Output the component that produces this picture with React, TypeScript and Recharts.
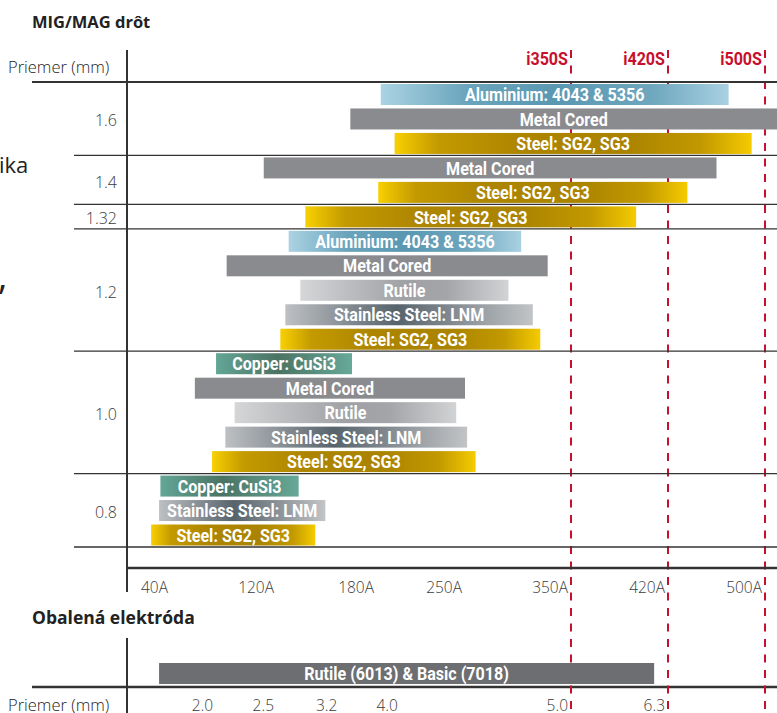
import React from 'react';
import { BarChart, Bar, XAxis, YAxis, ReferenceLine } from 'recharts';

// MIG/MAG wire rows, top to bottom (one bar per row)
const ROW_DIAMETER = [
  '1.6', '1.6', '1.6',
  '1.4', '1.4',
  '1.32',
  '1.2', '1.2', '1.2', '1.2', '1.2',
  '1.0', '1.0', '1.0', '1.0', '1.0',
  '0.8', '0.8', '0.8',
];
const ROW_WIRE = [
  'Aluminium: 4043 & 5356', 'Metal Cored', 'Steel: SG2, SG3',
  'Metal Cored', 'Steel: SG2, SG3',
  'Steel: SG2, SG3',
  'Aluminium: 4043 & 5356', 'Metal Cored', 'Rutile', 'Stainless Steel: LNM', 'Steel: SG2, SG3',
  'Copper: CuSi3', 'Metal Cored', 'Rutile', 'Stainless Steel: LNM', 'Steel: SG2, SG3',
  'Copper: CuSi3', 'Stainless Steel: LNM', 'Steel: SG2, SG3',
];
// current range in amps
const ROW_MIN_A = [183, 164, 194, 110, 181, 137, 127, 82, 134, 125, 122, 74, 58, 88, 81, 71, 32, 31, 25];
const ROW_MAX_A = [470, 510, 489, 460, 436, 397, 303, 328, 291, 314, 321, 165, 250, 243, 252, 260, 133, 149, 143];

const AMP_TICKS = [40, 120, 180, 250, 350, 420, 500];

const MACHINES = ['i350S', 'i420S', 'i500S'];
const MACHINE_MAX_A = [350, 420, 500];

// coated electrode
const ELECTRODE_LABEL = 'Rutile (6013) & Basic (7018)';
const ELECTRODE_RANGE_A = [31, 410];
const ELECTRODE_DIAMETERS = ['2.0', '2.5', '3.2', '4.0', '5.0', '6.3'];
const ELECTRODE_DIAMETER_A = [74, 120, 158, 199, 350, 420];

// layout
const W = 777;
const H = 713;
const PLOT_LEFT = 127;
const PLOT_TOP = 82;
const PLOT_BOTTOM = 568;
const PAD_BOTTOM = 21;
const X_AXIS_H = 32;
const SLOT = (PLOT_BOTTOM - PAD_BOTTOM - PLOT_TOP) / ROW_WIRE.length;
// the amp axis is not linear: where each tick sits inside the 650px plot
const AMP_TICK_X = [44, 150, 250, 338, 444, 541, 638];

const BAR_FONT = 'Roboto, "DejaVu Sans", sans-serif';
const SQUEEZE = 0.87; // condensed look for the bar labels
const TEXT_FONT = '"Open Sans", "Noto Sans", sans-serif';
const RED = '#C8102E';
const DARK = '#333';

const FILLS: Record<string, string> = {
  Aluminium: 'url(#g-alu)',
  Metal: '#8A8B8F',
  Steel: 'url(#g-steel)',
  Rutile: 'url(#g-rutile)',
  Stainless: 'url(#g-stainless)',
  Copper: 'url(#g-copper)',
};

function toAxis(a: number) {
  let i = 0;
  while (i < AMP_TICKS.length - 2 && a > AMP_TICKS[i + 1]) i++;
  const slope = (AMP_TICK_X[i + 1] - AMP_TICK_X[i]) / (AMP_TICKS[i + 1] - AMP_TICKS[i]);
  return AMP_TICK_X[i] + (a - AMP_TICKS[i]) * slope;
}

const wireData = ROW_WIRE.map((wire, i) => ({
  row: `r${i}`,
  wire,
  range: [toAxis(ROW_MIN_A[i]), toAxis(ROW_MAX_A[i])],
  fill: FILLS[wire.split(/[ :]/)[0]],
}));

const electrodeData = [
  { row: 'e', wire: ELECTRODE_LABEL, range: ELECTRODE_RANGE_A.map(toAxis), fill: '#6D6E71' },
];

const WireBar = (p: any) => {
  const { x, y, width, height, payload } = p;
  return (
    <g>
      <rect x={x} y={y} width={width} height={height} fill={payload.fill} />
      <text
        transform={`translate(${x + width / 2},${y + height / 2}) scale(${SQUEEZE},1)`}
        dy="0.36em"
        textAnchor="middle"
        fill="#fff"
        fontFamily={BAR_FONT}
        fontWeight={700}
        fontSize={18.5}
      >
        {payload.wire}
      </text>
    </g>
  );
};

// diameter label + separators, drawn once per diameter group
const DiameterTick = (props: any) => {
  const { y, index } = props;
  const d = ROW_DIAMETER[index];
  if (index > 0 && ROW_DIAMETER[index - 1] === d) return <g />;
  const count = ROW_DIAMETER.filter((v) => v === d).length;
  const top = y - SLOT / 2;
  const last = index + count === ROW_DIAMETER.length;
  return (
    <g>
      <line x1={index === 0 ? 32 : 74} x2={W} y1={top} y2={top} stroke={DARK} strokeWidth={index === 0 ? 2 : 1.3} />
      {last && <line x1={74} x2={W} y1={top + count * SLOT} y2={top + count * SLOT} stroke={DARK} strokeWidth={1.3} />}
      <text x={117} y={top + (count * SLOT) / 2 + 2} dy="0.36em" textAnchor="end" fill="#3a3a3a" fontFamily={TEXT_FONT} fontWeight={300} fontSize={16}>
        {d}
      </text>
    </g>
  );
};

const AmpTick = (props: any) => {
  const { x, y, index } = props;
  return (
    <text x={x - 3} y={y + 25} textAnchor="end" fill="#3a3a3a" fontFamily={TEXT_FONT} fontWeight={300} fontSize={15.5}>
      {AMP_TICKS[index]}A
    </text>
  );
};

const ElectrodeTick = (props: any) => {
  const { x, y, index } = props;
  return (
    <text x={x - 3} y={y + 24} textAnchor="end" fill="#3a3a3a" fontFamily={TEXT_FONT} fontWeight={300} fontSize={15.5}>
      {ELECTRODE_DIAMETERS[index]}
    </text>
  );
};

const MachineLine = (props: any) => {
  const { x1, name } = props;
  return (
    <g>
      <line x1={x1} x2={x1} y1={50} y2={H} stroke={RED} strokeWidth={2} strokeDasharray="8 7.5" />
      <text
        transform={`translate(${x1 - 3},65) scale(${SQUEEZE},1)`}
        textAnchor="end"
        fill={RED}
        fontFamily={BAR_FONT}
        fontWeight={700}
        fontSize={18.5}
      >
        {name}
      </text>
    </g>
  );
};

const Grad = ({ id, stops }: { id: string; stops: [number, string][] }) => (
  <linearGradient id={id} x1="0" y1="0" x2="1" y2="0">
    {stops.map(([o, c]) => (
      <stop key={o} offset={`${o}%`} stopColor={c} />
    ))}
  </linearGradient>
);

const layer = (top: number): React.CSSProperties => ({ position: 'absolute', left: 0, top });

export default function App() {
  return (
    <div style={{ position: 'absolute', left: 0, top: 0, width: W, height: H, background: '#fff' }}>
      <svg width={W} height={H} style={layer(0)}>
        <text x={32} y={28} fontFamily={TEXT_FONT} fontWeight={700} fontSize={16.5} fill="#222">MIG/MAG drôt</text>
        <text x={8} y={73} fontFamily={TEXT_FONT} fontWeight={300} fontSize={16.5} fill="#222">Priemer (mm)</text>
        <text x={-1} y={173} fontFamily={TEXT_FONT} fontSize={22} fill="#222">ika</text>
        <text x={-2} y={289} fontFamily={TEXT_FONT} fontSize={36} fill="#222">,</text>
        <line x1={PLOT_LEFT} x2={PLOT_LEFT} y1={50} y2={592} stroke={DARK} strokeWidth={2} />
        <text x={32} y={624} fontFamily={TEXT_FONT} fontWeight={700} fontSize={17.5} fill="#222">Obalená elektróda</text>
        <line x1={PLOT_LEFT} x2={PLOT_LEFT} y1={638} y2={H} stroke={DARK} strokeWidth={2} />
        <line x1={32} x2={W} y1={687} y2={687} stroke={DARK} strokeWidth={2.5} />
        <text x={8} y={711} fontFamily={TEXT_FONT} fontWeight={300} fontSize={16.5} fill="#222">Priemer (mm)</text>
      </svg>

      {/* machine limits, kept behind the bars */}
      <div style={layer(0)}>
        <BarChart width={W} height={H} layout="vertical" data={wireData} margin={{ top: PLOT_TOP, right: 0, bottom: 0, left: PLOT_LEFT }}>
          <XAxis type="number" domain={[0, W - PLOT_LEFT]} allowDataOverflow hide />
          <YAxis type="category" dataKey="row" hide />
          {MACHINES.map((m, i) => (
            <ReferenceLine
              key={m}
              x={toAxis(MACHINE_MAX_A[i])}
              shape={(p: any) => <MachineLine {...p} name={m} />}
            />
          ))}
        </BarChart>
      </div>

      <div style={layer(0)}>
        <BarChart
          width={W}
          height={H}
          layout="vertical"
          data={wireData}
          margin={{ top: PLOT_TOP, right: 0, bottom: H - PLOT_BOTTOM - X_AXIS_H, left: 0 }}
        >
          <defs>
            <Grad id="g-steel" stops={[[0, '#F8D000'], [12, '#C49A00'], [35, '#AD8500'], [65, '#AA8300'], [86, '#C29900'], [100, '#F5CB00']]} />
            <Grad id="g-alu" stops={[[0, '#ABD3E3'], [25, '#6AA4BC'], [50, '#5A98B2'], [78, '#6EA7BE'], [100, '#A9D1E2']]} />
            <Grad id="g-rutile" stops={[[0, '#D5D6D8'], [50, '#9FA1A4'], [70, '#A3A5A8'], [100, '#D2D3D5']]} />
            <Grad id="g-stainless" stops={[[0, '#BEC0C3'], [45, '#57636B'], [100, '#C2C4C6']]} />
            <Grad id="g-copper" stops={[[0, '#63A696'], [45, '#4B7363'], [100, '#67A999']]} />
          </defs>
          <XAxis
            type="number"
            domain={[0, W - PLOT_LEFT]}
            allowDataOverflow
            ticks={AMP_TICKS.map(toAxis)}
            interval={0}
            height={X_AXIS_H}
            tickSize={0}
            tickMargin={0}
            tickLine={false}
            axisLine={{ stroke: DARK, strokeWidth: 2.5 }}
            tick={<AmpTick />}
          />
          <YAxis
            type="category"
            dataKey="row"
            width={PLOT_LEFT}
            interval={0}
            tickLine={false}
            axisLine={false}
            padding={{ top: 0, bottom: PAD_BOTTOM }}
            tick={<DiameterTick />}
          />
          <Bar dataKey="range" barSize={21} shape={<WireBar />} isAnimationActive={false} />
        </BarChart>
      </div>

      <div style={layer(600)}>
        <BarChart
          width={W}
          height={H - 600}
          layout="vertical"
          data={electrodeData}
          margin={{ top: 60, right: 0, bottom: 0, left: PLOT_LEFT }}
        >
          <XAxis
            type="number"
            domain={[0, W - PLOT_LEFT]}
            allowDataOverflow
            ticks={ELECTRODE_DIAMETER_A.map(toAxis)}
            interval={0}
            height={26}
            tickSize={0}
            tickMargin={0}
            tickLine={false}
            axisLine={false}
            tick={<ElectrodeTick />}
          />
          <YAxis type="category" dataKey="row" hide />
          <Bar dataKey="range" barSize={21} shape={<WireBar />} isAnimationActive={false} />
        </BarChart>
      </div>
    </div>
  );
}
